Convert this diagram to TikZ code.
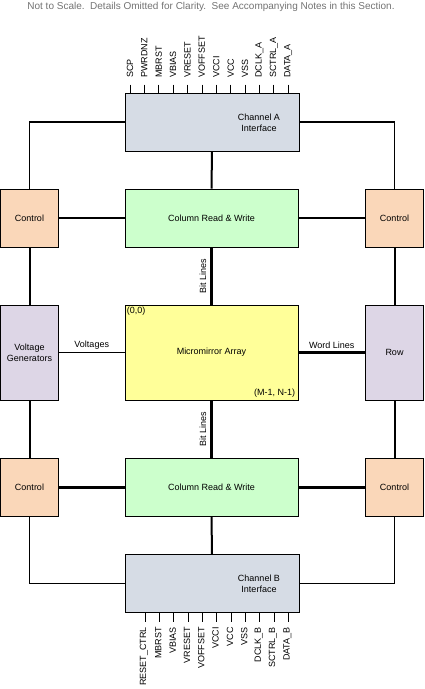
\documentclass[tikz,border=0pt]{standalone}
\usepackage{fontspec}
\setmainfont{Liberation Sans}
\definecolor{ifaceblue}{RGB}{214,220,229}
\definecolor{colgreen}{RGB}{204,255,204}
\definecolor{ctrlorange}{RGB}{250,215,185}
\definecolor{genlilac}{RGB}{221,214,230}
\definecolor{arrayyellow}{RGB}{255,255,153}
\begin{document}
\begin{tikzpicture}
      [x=1pt,y=-1pt,font=\fontsize{9}{11}\selectfont,
      box/.style={draw,line width=0.8pt,inner sep=0pt},
      iface node/.style={box,fill=ifaceblue,minimum width=174pt,minimum height=58pt},
      col node/.style={box,fill=colgreen,minimum width=173pt,minimum height=58pt},
      ctrl node/.style={box,fill=ctrlorange,minimum width=58pt,minimum height=58pt},
      gen node/.style={box,fill=genlilac,minimum width=58pt,minimum height=95pt,align=center},
      array node/.style={box,fill=arrayyellow,minimum width=173pt,minimum height=95pt},
      pin label/.style={rotate=90,inner sep=1pt},
      thin wire/.style={line width=1.3pt},
      wire/.style={line width=2pt},
      fat wire/.style={line width=2.8pt}]
      \useasboundingbox (0,0) rectangle (424,689);
      \node[text=black!55,font=\fontsize{10}{12}\selectfont] (note) at (211,7)
        {Not to Scale.\ \ Details Omitted for Clarity.\ \ See Accompanying Notes in this Section.};
      % blocks
      \node[iface node] (chA) at (212,122) { };
      \node[align=center] (chAtxt) at (259,122.5) {Channel A\\Interface};
      \node[col node] (colA) at (211.5,218) {Column Read \& Write};
      \node[ctrl node] (ctlTL) at (29.5,218) {Control};
      \node[ctrl node] (ctlTR) at (394.5,218) {Control};
      \node[gen node] (volt) at (29.5,352.5) {Voltage\\Generators};
      \node[array node] (mma) at (211.5,352.5) {Micromirror Array};
      \node[gen node] (row) at (394.5,352.5) {Row};
      \node[ctrl node] (ctlBL) at (29.5,487.3) {Control};
      \node[col node] (colB) at (211.5,487.3) {Column Read \& Write};
      \node[ctrl node] (ctlBR) at (394.5,487.3) {Control};
      \node[iface node] (chB) at (212,583.3) { };
      \node[align=center] (chBtxt) at (259,583.3) {Channel B\\Interface};
      \node[anchor=north west,inner sep=2pt] (org) at (mma.north west) {(0,0)};
      \node[anchor=south east,inner sep=3pt] (end) at (mma.south east) {(M-1, N-1)};
      % connections
      \draw[thin wire] (chA.west) -| (ctlTL.north);
      \draw[thin wire] (chA.east) -| (ctlTR.north);
      \draw[wire] (chA.south) -- (colA.north);
      \draw[fat wire] (ctlTL.east) -- (colA.west);
      \draw[fat wire] (colA.east) -- (ctlTR.west);
      \draw[wire] (ctlTL.south) -- (volt.north);
      \draw[wire] (ctlTR.south) -- (row.north);
      \draw[fat wire] (colA.south) -- node[midway,rotate=90,anchor=south,inner sep=4pt] {Bit Lines} (mma.north);
      \draw[thin wire] (volt.east) -- node[midway,above,inner sep=2pt] {Voltages} (mma.west);
      \draw[fat wire] (row.west) -- node[midway,above,inner sep=3pt] {Word Lines} (mma.east);
      \draw[fat wire] (mma.south) -- node[midway,rotate=90,anchor=south,inner sep=4pt] {Bit Lines} (colB.north);
      \draw[wire] (volt.south) -- (ctlBL.north);
      \draw[wire] (row.south) -- (ctlBR.north);
      \draw[fat wire] (ctlBL.east) -- (colB.west);
      \draw[fat wire] (colB.east) -- (ctlBR.west);
      \draw[wire] (colB.south) -- (chB.north);
      \draw[thin wire] (ctlBL.south) |- (chB.west);
      \draw[thin wire] (ctlBR.south) |- (chB.east);
      % pins of channel A
      \foreach \pin [count=\i from 0] in
        {SCP,PWRDNZ,MBRST,VBIAS,VRESET,VOFFSET,VCCI,VCC,VSS,DCLK\_A,SCTRL\_A,DATA\_A}
      {
        \coordinate (pa\i) at ({130+14.38*\i},84.5);
        \draw[line width=0.8pt] (pa\i) -- (pa\i |- chA.north);
        \node[pin label,anchor=west] (la\i) at ({130+14.38*\i},79) {\pin};
      }
      % pins of channel B
      \foreach \pin [count=\i from 0] in
        {RESET\_CTRL,MBRST,VBIAS,VRESET,VOFFSET,VCCI,VCC,VSS,DCLK\_B,SCTRL\_B,DATA\_B}
      {
        \coordinate (pb\i) at ({145+14.33*\i},621.5);
        \draw[line width=0.8pt] (pb\i |- chB.south) -- (pb\i);
        \node[pin label,anchor=east] (lb\i) at ({144+14.33*\i},626) {\pin};
      }
    \end{tikzpicture}
\end{document}
